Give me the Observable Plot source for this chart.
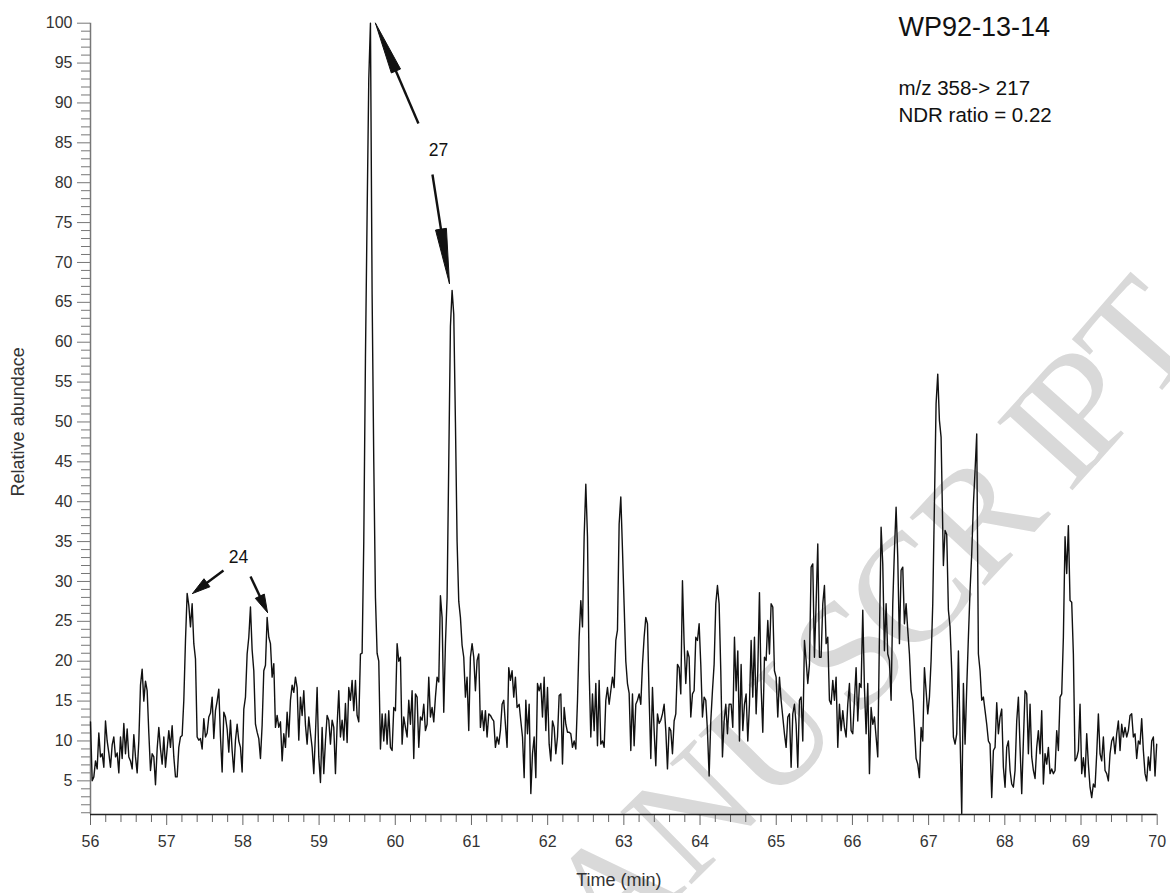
<!DOCTYPE html>
<html><head><meta charset="utf-8">
<script src="https://cdn.jsdelivr.net/npm/d3@7"></script>
<script src="https://cdn.jsdelivr.net/npm/@observablehq/plot@0.6"></script>
<style>html,body{margin:0;padding:0;background:#fff}</style>
</head><body><div id="chart"></div>
<script>
// ---- data (time in minutes, relative abundance in %) ----
const sampleInterval = 0.02187;
const seg1Start = 56.0, seg2Start = 61.626, seg3Start = 64.408, seg4Start = 67.194;
const seg1 = [12.4,5.0,5.5,7.5,6.5,11.0,8.0,8.4,6.7,12.5,10.0,8.5,6.7,9.5,10.5,8.0,8.5,6.0,10.5,7.8,12.2,8.4,11.5,8.0,7.5,6.5,10.8,8.0,6.0,10.0,
17.0,19.0,15.0,17.5,16.3,11.0,6.3,8.4,8.0,4.5,9.0,11.7,9.0,7.1,10.5,6.7,9.0,11.3,9.2,11.9,8.0,5.5,5.5,9.2,10.5,10.7,15.1,22.6,28.5,27.0,
24.3,27.2,22.2,20.3,10.5,10.1,10.3,9.0,12.8,10.5,11.0,13.0,13.5,15.5,10.3,13.8,15.0,16.5,10.5,6.1,13.6,13.0,11.5,8.6,12.6,8.8,6.1,10.1,12.1,10.0,
9.2,6.1,14.0,15.5,20.9,23.0,26.8,21.4,18.8,12.1,11.1,10.3,7.8,12.0,18.8,19.5,25.5,23.0,22.2,18.0,19.7,11.7,13.2,11.7,12.4,7.5,10.9,9.2,13.6,10.5,
15.1,17.0,16.1,18.0,16.7,10.1,15.5,13.2,16.3,12.0,9.6,13.0,11.0,9.2,5.9,10.9,16.7,8.0,4.8,11.7,5.9,10.0,13.2,12.6,9.6,12.6,11.7,5.9,12.0,16.3,
10.5,12.6,10.1,14.7,9.8,16.7,15.1,17.6,13.8,17.6,13.2,12.4,20.9,21.0,35,58,76,93,100,66,45,28,21.0,20.0,9.0,
13.4,10.0,13.4,9.6,13.8,9.2,8.8,14.2,13.8,22.2,20.0,20.5,9.6,13.0,11.7,10.5,15.1,12.1,16.3,7.8,15.9,15.5,9.2,13.0,12.6,14.6,11.3,12.1,18.0,13.0,
14.2,12.4,15.5,18.0,17.4,28.2,25.5,13.6,22.2,28.0,45,62,66.5,63.5,50,35,27.5,25.5,22,20.5,15.5,18.0,11.3,20.5,22.2,20.5,16.3,20.1,20.9,11.7,
13.8,11.3,13.8,10.5,13.4,13.2,12.8,12.5,9.2,10.5,9.6,11.3,14.6,15.1,12.1,9.2,19.2,17.6,18.8,15.5,18.0,14.2];
const seg2 = [14.6,12.5,10.5,5.4,15.1,10.9,14.6,3.4,8.4,10.5,5.4,17.2,16.3,17.2,13.0,18.0,11.3,16.7,9.6,7.5,12.5,11.7,8.4,10.5,15.7,15.9,7.1,14.2,12.1,11.1,
11.1,10.9,9.2,10.0,9.0,15.0,23.0,27.6,24.3,35.6,42.2,35.6,18.8,10.5,15.9,11.3,17.2,9.4,17.6,9.6,10.0,9.2,15.1,16.7,14.6,16.3,18.0,16.7,22.6,23.9,
37.2,40.6,34,27,20,17.2,16.0,8.8,15.9,9.4,14.6,15.1,15.9,14.6,19.6,23.0,25.5,24.7,15.5,7.8,16.7,11.3,6.9,13.4,12.2,12.6,13.4,14.6,11.3,6.5,
11.7,11.3,8.4,12.5,13.4,19.6,19.2,15.9,30.1,22.2,17.2,21.3,20.5,13.0,15.9,16.3,23.0,22.6,24.7,19.6,13.0,15.5,15.1,11.3,5.6,12.5,16.3,19.6,27.2,29.5,
27.2,18.8,8.0,12.5,14.6,10.9,14.6];
const seg3 = [14.6,11.7,23.0,16.3,21.3,10.0,19.6,11.3,14.6,15.9,10.0,14.6,22.6,15.5,23.0,13.4,18.8,28.6,16.7,11.1,20.5,20.1,25.1,20.9,27.2,26.8,18.8,18.0,13.0,18.0,
15.1,13.0,10.9,9.2,13.0,13.4,6.7,13.4,14.6,12.1,6.7,15.1,15.5,10.0,22.6,20.1,17.2,19.6,31.8,32.2,20.5,27.2,34.7,20.5,20.5,27.2,29.5,22.2,23.0,15.1,
14.6,17.6,15.1,18.0,9.2,14.6,11.3,13.8,11.7,10.5,14.6,17.2,11.3,10.9,15.1,19.2,12.5,17.2,16.7,26.4,16.7,10.9,17.2,5.9,14.2,12.1,13.0,10.5,8.0,23.0,
36.8,32.2,21.3,27.2,20.9,20.1,15.1,27.2,33.9,39.3,33.0,22.2,31.4,31.8,24.7,27.2,23.9,20.9,16.3,15.1,11.7,7.8,7.1,5.4,11.7,10.0,19.2,16.3,13.4,15.5,
20.1,27.2,39.7,52.3,56.0,50.2,48.1];
const seg4 = [32,36.4,35.9,26.4,24.3,18.8,10.5,9.6,10.9,21.3,10.5,0.9,17.2,9.6,16.7,23.0,28.9,33.5,39.7,43.9,48.5,20.9,18.8,15.1,15.5,13.8,12.1,10.0,9.6,2.9,
8.8,9.2,14.8,10.9,13.0,14.0,6.7,4.2,9.2,10.0,6.3,4.6,4.2,6.3,12.5,15.5,9.2,3.4,10.0,16.3,15.9,8.4,14.6,8.0,6.3,5.3,9.2,11.3,8.4,13.8,
4.6,8.4,7.1,9.2,5.9,6.5,5.9,6.3,11.3,8.8,15.5,15.9,23.0,35.6,31.0,37.0,27.6,27.4,20.9,7.5,7.9,8.8,14.6,5.9,7.9,5.5,10.9,7.1,4.2,2.9,
4.6,4.2,8.4,13.4,8.4,7.5,10.5,6.3,5.9,5.0,8.4,10.0,10.5,8.4,10.9,12.5,8.8,12.1,10.5,11.7,10.5,11.3,13.2,13.4,10.5,10.9,7.8,10.0,9.6,12.8,
8.8,5.9,5.0,8.0,6.3,10.0,10.5,5.6,9.6];

const xMajorTicks = [56,57,58,59,60,61,62,63,64,65,66,67,68,69,70];
const yMajorTicks = [5,10,15,20,25,30,35,40,45,50,55,60,65,70,75,80,85,90,95,100];

// annotation arrows: tail -> tip (data coordinates)
const arrowTailTime = [60.304, 60.488, 57.745, 58.100];
const arrowTailValue = [87.42, 81.03, 31.38, 30.62];
const arrowTipTime = [59.740, 60.711, 57.339, 58.323];
const arrowTipValue = [100.0, 67.36, 28.49, 26.11];
const peakLabels = ["27", "24"];
const peakLabelTime = [60.567, 57.942];
const peakLabelValue = [84.1, 33.06];
const infoLines = ["WP92-13-14", "m/z 358-> 217", "NDR ratio = 0.22"];
const infoTime = 66.604;
const infoValue = [99.54, 91.86, 88.48];
const watermarkText = "ACCEPTED MANUSCRIPT";

// ---- build ----
const segments = [[seg1Start, seg1],[seg2Start, seg2],[seg3Start, seg3],[seg4Start, seg4]];
const trace = segments.flatMap(([t0, vals]) => vals.map((v, i) => ({time: t0 + i * sampleInterval, abundance: v})));
const yMinor = d3.range(1, 101).filter(d => d % 5 !== 0);
const xMinor = d3.range(0, 71).map(i => 56 + i * 0.2).filter(d => Math.abs(d - Math.round(d)) > 1e-6);
const yBottom = 0.78;

const headLen = [52, 55, 18, 18];
const headHalf = [5, 5.5, 5, 5];

const FONT = "'Liberation Sans', Arial, Helvetica, sans-serif";

function makePlot(extra) {
  return Plot.plot({
    width: 1170, height: 893,
    marginLeft: 90, marginRight: 13.3, marginTop: 22.7, marginBottom: 79,
    style: {fontFamily: FONT, background: "#fff", overflow: "visible"},
    x: {domain: [56, 70], axis: null},
    y: {domain: [yBottom, 100], axis: null},
    marks: [
      Plot.axisY(yMinor, {tickSize: 9, fill: "none", label: null, stroke: "#777", strokeWidth: 1}),
      Plot.axisY(yMajorTicks, {tickSize: 13, tickPadding: 5, fontSize: 16, label: null, stroke: "#777", strokeWidth: 1, fill: "#333"}),
      Plot.axisX(xMinor, {tickSize: 8, fill: "none", label: null, stroke: "#666", strokeWidth: 1}),
      Plot.axisX(xMajorTicks, {tickSize: 11, tickPadding: 10, fontSize: 16, label: null, stroke: "#666", strokeWidth: 1, fill: "#333", tickFormat: d => String(d)}),
      Plot.ruleX([56], {stroke: "#777", strokeWidth: 1.5}),
      Plot.ruleY([yBottom], {stroke: "#222", strokeWidth: 1.5}),
      Plot.line(trace, {x: "time", y: "abundance", stroke: "#111", strokeWidth: 1.4}),
      Plot.text(["Time (min)"], {frameAnchor: "bottom", dy: 71, dx: -5, fontSize: 18, fill: "#333"}),
      Plot.text(["Relative abundace"], {frameAnchor: "left", textAnchor: "middle", dx: -72, dy: 3, rotate: -90, fontSize: 18, fill: "#333"}),
      Plot.text(peakLabels, {x: (d, i) => peakLabelTime[i], y: (d, i) => peakLabelValue[i], text: d => d, fontSize: 17.5, fill: "#111"}),
      Plot.text(infoLines, {x: () => infoTime, y: (d, i) => infoValue[i], text: d => d, textAnchor: "start",
        fontSize: (d, i) => i === 0 ? 27 : 20.5, fill: "#111"}),
      ...extra
    ]
  });
}

const base = makePlot([]);
const sx = base.scale("x"), sy = base.scale("y");
const heads = [], shafts = [];
arrowTailTime.forEach((t, i) => {
  const x1 = sx.apply(t), y1 = sy.apply(arrowTailValue[i]);
  const x2 = sx.apply(arrowTipTime[i]), y2 = sy.apply(arrowTipValue[i]);
  const d = Math.hypot(x2 - x1, y2 - y1), ux = (x2 - x1) / d, uy = (y2 - y1) / d;
  const L = headLen[i], W = headHalf[i];
  const bx = x2 - ux * L, by = y2 - uy * L;
  shafts.push({x1: t, y1: arrowTailValue[i], x2: sx.invert(bx + ux * 2), y2: sy.invert(by + uy * 2)});
  [[x2, y2], [bx - uy * W, by + ux * W], [bx + uy * W, by - ux * W], [x2, y2]].forEach(([px, py]) =>
    heads.push({id: i, x: sx.invert(px), y: sy.invert(py)}));
});

const chart = makePlot([
  Plot.link(shafts, {x1: "x1", y1: "y1", x2: "x2", y2: "y2", stroke: "#111", strokeWidth: 2.4}),
  Plot.line(heads, {x: "x", y: "y", z: "id", fill: "#111", stroke: "#111", strokeWidth: 1, curve: "linear"})
]);
document.getElementById("chart").appendChild(chart);

// faint publisher watermark behind the marks, one glyph per text element
const NS = "http://www.w3.org/2000/svg";
const defs = document.createElementNS(NS, "defs");
const path = document.createElementNS(NS, "path");
path.setAttribute("id", "wmpath");
path.setAttribute("d", "M 440 1120 Q 870 730 1210 335");
defs.appendChild(path);
const firstMark = chart.querySelector("g");
chart.insertBefore(defs, firstMark);
const wmFont = "'Liberation Serif', 'Times New Roman', serif", wmSize = 155;
const chars = [...watermarkText];
const widths = chars.map(c => {
  const m = document.createElementNS(NS, "text");
  m.setAttribute("font-family", wmFont);
  m.setAttribute("font-size", wmSize);
  m.setAttribute("xml:space", "preserve");
  m.textContent = c === " " ? "\u00a0" : c;
  chart.appendChild(m);
  const w = m.getComputedTextLength();
  chart.removeChild(m);
  return w;
});
const total = d3.sum(widths);
const adv = d3.cumsum([0, ...widths]);
const pathLen = path.getTotalLength();
chars.forEach((c, i) => {
  const off = pathLen - total + adv[i] + 45;
  if (c === " " || off < 0 || off > pathLen) return;
  const p = path.getPointAtLength(Math.min(pathLen, off + 40));
  if (p.y > 960) return;
  const t = document.createElementNS(NS, "text");
  t.setAttribute("font-family", wmFont);
  t.setAttribute("font-size", wmSize);
  t.setAttribute("fill", "#d9d9d9");
  const tp = document.createElementNS(NS, "textPath");
  tp.setAttribute("href", "#wmpath");
  tp.setAttribute("startOffset", off);
  tp.textContent = c;
  t.appendChild(tp);
  chart.insertBefore(t, firstMark);
});
</script>
</body></html>
